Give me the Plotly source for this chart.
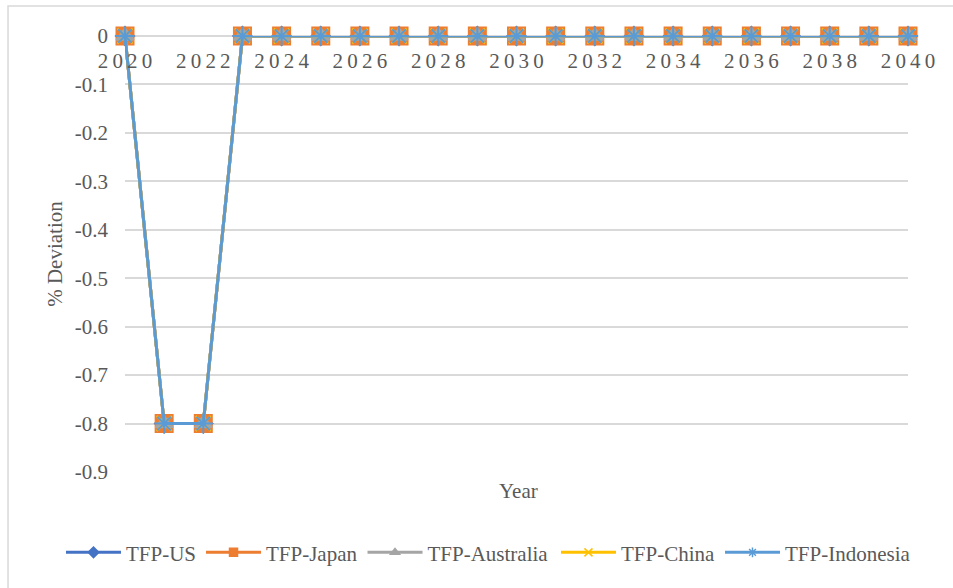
import plotly.graph_objects as go

# Years on the category axis
years = list(range(2020, 2041))

# % deviation of total factor productivity from baseline, by economy
tfp_us = [0, -0.8, -0.8] + [0] * 18
tfp_japan = [0, -0.8, -0.8] + [0] * 18
tfp_australia = [0, -0.8, -0.8] + [0] * 18
tfp_china = [0, -0.8, -0.8] + [0] * 18
tfp_indonesia = [0, -0.8, -0.8] + [0] * 18

# Axis ticks
year_ticks = list(range(2020, 2041, 2))
y_ticks = [0, -0.1, -0.2, -0.3, -0.4, -0.5, -0.6, -0.7, -0.8, -0.9]

FONT = "Liberation Serif"
FS = 21
GREY_TXT = "#595959"
GRID = "#D9D9D9"

series = [
    ("TFP-US", tfp_us, "#4472C4", "diamond", 14, "legend"),
    ("TFP-Japan", tfp_japan, "#ED7D31", "square", 17, "legend"),
    ("TFP-Australia", tfp_australia, "#A5A5A5", "triangle-up", 15, "legend"),
    ("TFP-China", tfp_china, "#FFC000", "x-thin-open", 15, "legend2"),
    ("TFP-Indonesia", tfp_indonesia, "#5B9BD5", "asterisk-open", 16, "legend2"),
]

fig = go.Figure()

# Data traces (lines with markers)
for name, vals, color, sym, size, lg in series:
    fig.add_trace(go.Scatter(
        x=years, y=vals, mode="lines+markers", name=name,
        line=dict(color=color, width=3),
        marker=dict(symbol=sym, size=size, color=color,
                    line=dict(color=color, width=2)),
        cliponaxis=False, showlegend=False,
    ))

# Legend entries with smaller markers
for name, vals, color, sym, size, lg in series:
    fig.add_trace(go.Scatter(
        x=[None], y=[None], mode="lines+markers", name=name,
        line=dict(color=color, width=3),
        marker=dict(symbol=sym, size=8, color=color,
                    line=dict(color=color, width=1.5)),
        showlegend=True, legend=lg,
    ))

spaced = ["\u2009".join(str(y)) for y in year_ticks]

legend_style = dict(
    orientation="h", xanchor="left",
    yref="container", y=0.06, yanchor="middle",
    itemwidth=55, font=dict(family=FONT, size=FS, color=GREY_TXT),
    itemclick=False, tracegroupgap=0, xref="container",
)

fig.update_layout(
    width=953, height=588,
    margin=dict(l=125, r=45, t=36, b=116, autoexpand=False),
    paper_bgcolor="white", plot_bgcolor="white",
    font=dict(family=FONT, size=FS, color=GREY_TXT),
    showlegend=True,
    legend=dict(x=0.064, **legend_style),
    legend2=dict(x=0.5834, **legend_style),
    xaxis=dict(
        range=[2020, 2040], tickmode="array", tickvals=year_ticks,
        ticktext=spaced, showgrid=False, zeroline=False, showline=False,
        anchor="free", position=1, side="bottom",
        ticks="", ticklabelstandoff=10,
        tickfont=dict(family=FONT, size=FS, color=GREY_TXT),
    ),
    yaxis=dict(
        range=[-0.9, 0], tickmode="array", tickvals=y_ticks,
        ticktext=[("%g" % v) for v in y_ticks],
        showgrid=True, gridcolor=GRID, gridwidth=1.5,
        zeroline=True, zerolinecolor=GRID, zerolinewidth=1.5,
        showline=False, ticks="", ticklabelstandoff=16,
        tickfont=dict(family=FONT, size=FS, color=GREY_TXT),
        title=dict(text="% Deviation", standoff=6,
                   font=dict(family=FONT, size=FS, color=GREY_TXT)),
    ),
    shapes=[dict(
        type="rect", xref="paper", yref="paper",
        x0=-0.1494, x1=1.3, y0=-0.6, y1=1.0688,
        line=dict(color=GRID, width=1.5), fillcolor="rgba(0,0,0,0)",
        layer="below",
    )],
    annotations=[dict(
        text="Year", xref="paper", yref="paper", x=0.502, y=-0.044,
        xanchor="center", yanchor="middle", showarrow=False,
        font=dict(family=FONT, size=FS, color=GREY_TXT),
    )],
)

fig.write_html("out.html")
